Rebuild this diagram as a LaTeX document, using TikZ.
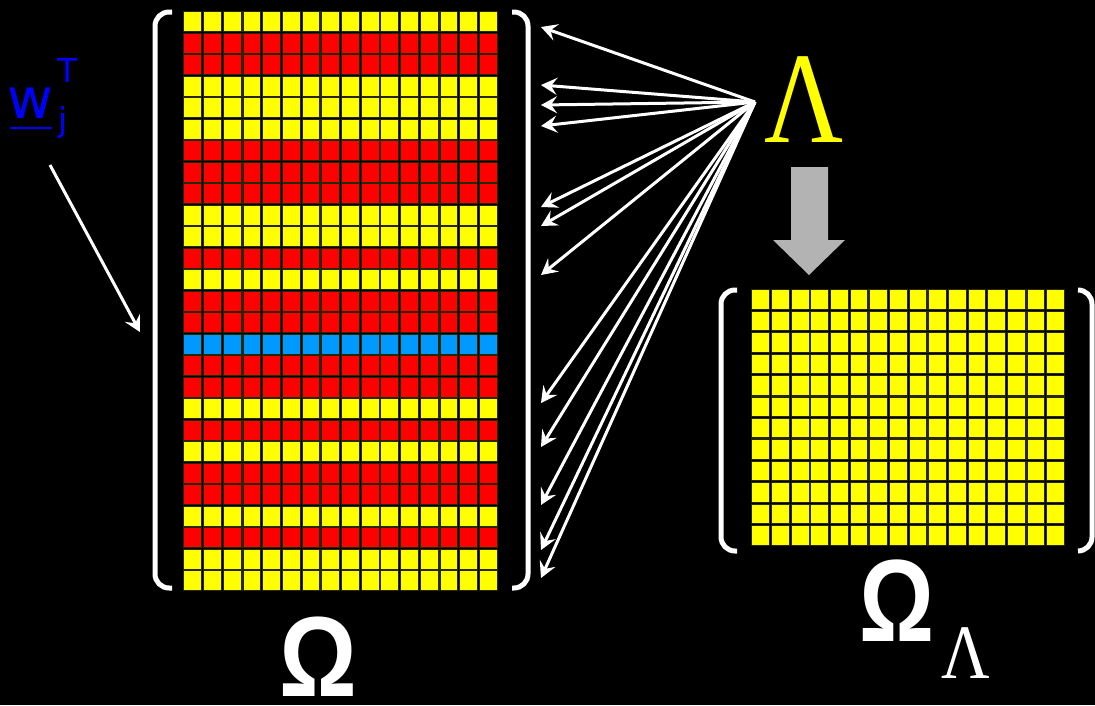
\documentclass[tikz,border=0pt]{standalone}
\usepackage{graphicx}
\usepackage{fontspec}
\usetikzlibrary{arrows.meta}
\newfontfamily\symsans{Liberation Sans}
\newfontfamily\symserif{Liberation Serif}
\newfontfamily\labelsans{DejaVu Sans}

\definecolor{cellyellow}{RGB}{255,255,0}
\definecolor{cellred}{RGB}{255,0,0}
\definecolor{cellblue}{RGB}{0,153,255}
\definecolor{celledge}{RGB}{40,40,0}
\definecolor{vecblue}{RGB}{0,0,255}
\definecolor{flowgray}{RGB}{179,179,179}

\tikzset{
  cellbase/.style={draw=celledge, line width=1.1pt},
  cellY/.style={cellbase, fill=cellyellow},
  cellR/.style={cellbase, fill=cellred},
  cellB/.style={cellbase, fill=cellblue},
  bracket/.style={draw=white, line width=5pt, rounded corners=14pt},
  ray/.style={draw=white, line width=3pt,
    -{Stealth[length=16pt, width=17pt, inset=6pt]}},
  sym/.style={inner sep=0pt, outer sep=0pt},
}

\begin{document}
\begin{tikzpicture}[x=1pt, y=-1pt]
  % canvas
  \fill[black] (0,0) rectangle (1095,705);
  \useasboundingbox (0,0) rectangle (1095,705);

  % full matrix: 27 rows x 16 columns
  \foreach \c [count=\r from 0] in {Y,R,R,Y,Y,Y,R,R,R,Y,Y,R,Y,R,R,B,R,R,Y,R,Y,R,R,Y,R,Y,Y} {
    \foreach \k in {0,...,15} {
      \path[cell\c] ({183+\k*19.7+0.9},{11+\r*21.5+0.9}) rectangle +(17.9,19.7);
    }
  }

  % reduced matrix: 12 rows x 16 columns
  \foreach \r in {0,...,11} {
    \foreach \k in {0,...,15} {
      \path[cellY] ({751+\k*19.65+0.9},{289+\r*21.42+0.9}) rectangle +(17.85,19.6);
    }
  }

  % brackets
  \draw[bracket] (172,12) -- (155,12) -- (155,588) -- (172,588);
  \draw[bracket] (512,12) -- (528,12) -- (528,588) -- (512,588);
  \draw[bracket] (737,290) -- (721,290) -- (721,551) -- (737,551);
  \draw[bracket] (1078,290) -- (1092,290) -- (1092,551) -- (1078,551);

  % labels
  \node[sym, text=cellyellow, font=\symserif\fontsize{130}{130}\selectfont] (lambda) at (804,100) {\scalebox{0.84}[1]{Λ}};
  \node[sym, text=white, font=\symsans\bfseries\fontsize{114}{114}\selectfont] (omega) at (318,657) {\scalebox{0.85}[1]{Ω}};
  \node[sym, text=white, font=\symsans\bfseries\fontsize{117}{117}\selectfont] (omegaL) at (897,601) {\scalebox{0.8}[1]{Ω}};
  \node[sym, text=white, font=\symserif\fontsize{77}{77}\selectfont] (omegaLsub) at (966,653) {\scalebox{0.87}[1]{Λ}};

  % row vector w_j^T
  \node[sym, anchor=base west, text=vecblue, font=\labelsans\fontsize{56}{56}\selectfont] (wvec) at (8,118) {w};
  \node[sym, anchor=base west, text=vecblue, font=\labelsans\fontsize{33}{33}\selectfont] (wsup) at (57,82) {T};
  \node[sym, anchor=base west, text=vecblue, font=\labelsans\fontsize{33}{33}\selectfont] (wsub) at (58,131) {j};
  \draw[vecblue, line width=2.5pt] (wvec.base west) ++(2,10) -- ++(42,0);

  % pointer from w_j^T into the matrix
  \coordinate (wfrom) at (50,165);
  \coordinate (wto) at (140,332);
  \draw[ray] (wfrom) -- (wto);

  % selection rays from Lambda to the selected rows
  \coordinate (lam) at (755,102);
  \foreach \ty [count=\i] in {27,85,105,126,207,226,275,403,447,505,550,578} {
    \coordinate (t\i) at (541,\ty);
    \draw[ray] (lam) -- (t\i);
  }

  % reduction arrow
  \fill[flowgray] (791,167) -- (828,167) -- (828,240) -- (845,240) -- (809,275)
    -- (773,240) -- (791,240) -- cycle;
\end{tikzpicture}
\end{document}
